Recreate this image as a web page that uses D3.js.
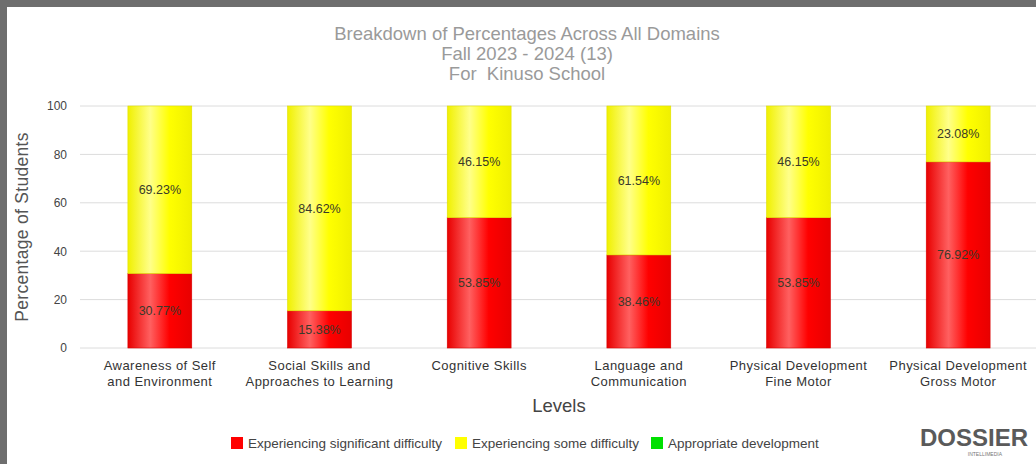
<!DOCTYPE html>
<html>
<head>
<meta charset="utf-8">
<script src="https://cdn.jsdelivr.net/npm/d3@7"></script>
<style>
  html, body { margin: 0; padding: 0; background: #6e6e6e; }
  svg { display: block; font-family: "Liberation Sans", Arial, sans-serif; }
</style>
</head>
<body>
<svg id="svg" width="1036" height="464"></svg>
<script>
var categories = [
    ["Awareness of Self", "and Environment"],
    ["Social Skills and", "Approaches to Learning"],
    ["Cognitive Skills"],
    ["Language and", "Communication"],
    ["Physical Development", "Fine Motor"],
    ["Physical Development", "Gross Motor"]
];
var significant = [30.77, 15.38, 53.85, 38.46, 53.85, 76.92];
var some = [69.23, 84.62, 46.15, 61.54, 46.15, 23.08];
var appropriate = [0, 0, 0, 0, 0, 0];
var seriesNames = ["Experiencing significant difficulty", "Experiencing some difficulty", "Appropriate development"];
var seriesColors = ["#ff0000", "#ffff00", "#00e000"];
var yTicks = [0, 20, 40, 60, 80, 100];
var titleLines = ["Breakdown of Percentages Across All Domains", "Fall 2023 - 2024 (13)", "For  Kinuso School"];

var svg = d3.select("#svg");

// white panel inside the grey frame
svg.append("rect")
    .attr("x", 7).attr("y", 7)
    .attr("width", 1036).attr("height", 464)
    .attr("fill", "#fff");

var defs = svg.append("defs");
var grads = [
    ["red", "#ff0000", "#ff6060", "#e80000"],
    ["yellow", "#ffff00", "#ffff8a", "#f0f000"],
    ["green", "#00e000", "#60ff60", "#00c800"]
];
grads.forEach(g => {
    var lg = defs.append("linearGradient")
        .attr("id", "grad-" + g[0])
        .attr("x1", "0%").attr("x2", "100%").attr("y1", "0%").attr("y2", "0%");
    lg.append("stop").attr("offset", "0%").attr("stop-color", g[3]);
    lg.append("stop").attr("offset", "35%").attr("stop-color", g[2]);
    lg.append("stop").attr("offset", "65%").attr("stop-color", g[1]);
    lg.append("stop").attr("offset", "100%").attr("stop-color", g[3]);
});

var x = d3.scaleBand()
    .domain(d3.range(categories.length))
    .range([80, 1038])
    .paddingInner(0.6)
    .paddingOuter(0.3);

var y = d3.scaleLinear().domain([0, 100]).range([348, 106]);

// title
svg.append("g")
    .selectAll("text")
    .data(titleLines)
    .enter()
    .append("text")
    .attr("x", 527)
    .attr("y", (d, i) => 40 + i * 20)
    .attr("text-anchor", "middle")
    .attr("font-size", 18.5)
    .attr("fill", "#9a9a9a")
    .style("white-space", "pre")
    .text(d => d);

// grid
svg.append("g")
    .selectAll("line")
    .data(yTicks)
    .enter()
    .append("line")
    .attr("x1", 80).attr("x2", 1036)
    .attr("y1", d => y(d)).attr("y2", d => y(d))
    .attr("stroke", "#dcdcdc");

var yAxis = svg.append("g")
    .attr("transform", "translate(80,0)")
    .call(d3.axisLeft(y).tickValues(yTicks).tickSize(0).tickPadding(13));
yAxis.select(".domain").remove();
yAxis.selectAll("text")
    .attr("font-size", 12)
    .attr("fill", "#444")
    .attr("font-family", "Liberation Sans, Arial, sans-serif");

svg.append("text")
    .attr("transform", "translate(28,227) rotate(-90)")
    .attr("text-anchor", "middle")
    .attr("font-size", 17.5)
    .attr("letter-spacing", 0.3)
    .attr("fill", "#555")
    .text("Percentage of Students");

// stacked bars
var rows = categories.map((c, i) => ({ i: i, v: [significant[i], some[i], appropriate[i]] }));
var gradIds = ["url(#grad-red)", "url(#grad-yellow)", "url(#grad-green)"];

rows.forEach(r => {
    var base = 0;
    r.v.forEach((v, s) => {
        if (v <= 0) return;
        svg.append("rect")
            .attr("x", x(r.i))
            .attr("width", x.bandwidth())
            .attr("y", y(base + v))
            .attr("height", y(base) - y(base + v))
            .attr("fill", gradIds[s])
            .attr("stroke", s === 0 ? "#d80000" : "#e0e000")
            .attr("stroke-width", 0.6);
        svg.append("text")
            .attr("x", x(r.i) + x.bandwidth() / 2)
            .attr("y", y(base + v / 2) + 4.5)
            .attr("text-anchor", "middle")
            .attr("font-size", 12.5)
            .attr("fill", "#3a3a2a")
            .text(v.toFixed(2) + "%");
        base += v;
    });
});

// x labels
var xl = svg.append("g");
categories.forEach((lines, i) => {
    var t = xl.append("text")
        .attr("x", x(i) + x.bandwidth() / 2)
        .attr("y", 370)
        .attr("text-anchor", "middle")
        .attr("font-size", 13)
        .attr("letter-spacing", 0.45)
        .attr("fill", "#333");
    lines.forEach((l, k) => {
        t.append("tspan")
            .attr("x", x(i) + x.bandwidth() / 2)
            .attr("dy", k === 0 ? 0 : 16)
            .text(l);
    });
});

svg.append("text")
    .attr("x", 559)
    .attr("y", 412)
    .attr("text-anchor", "middle")
    .attr("font-size", 18.5)
    .attr("fill", "#444")
    .text("Levels");

// legend
var legendX = [231, 455, 651];
var legend = svg.append("g");
seriesNames.forEach((name, i) => {
    legend.append("rect")
        .attr("x", legendX[i]).attr("y", 437)
        .attr("width", 12).attr("height", 12)
        .attr("fill", seriesColors[i]);
    legend.append("text")
        .attr("x", legendX[i] + 17).attr("y", 447.5)
        .attr("font-size", 13.5)
        .attr("fill", "#444")
        .text(name);
});

// logo
svg.append("text")
    .attr("x", 1028).attr("y", 446)
    .attr("text-anchor", "end")
    .attr("font-size", 24)
    .attr("font-weight", "bold")
    .attr("fill", "#5a5a5a")
    .text("DOSSIER");
svg.append("text")
    .attr("x", 1002).attr("y", 456)
    .attr("text-anchor", "end")
    .attr("font-size", 5)
    .attr("fill", "#777")
    .text("INTELLIMEDIA");
</script>
</body>
</html>
